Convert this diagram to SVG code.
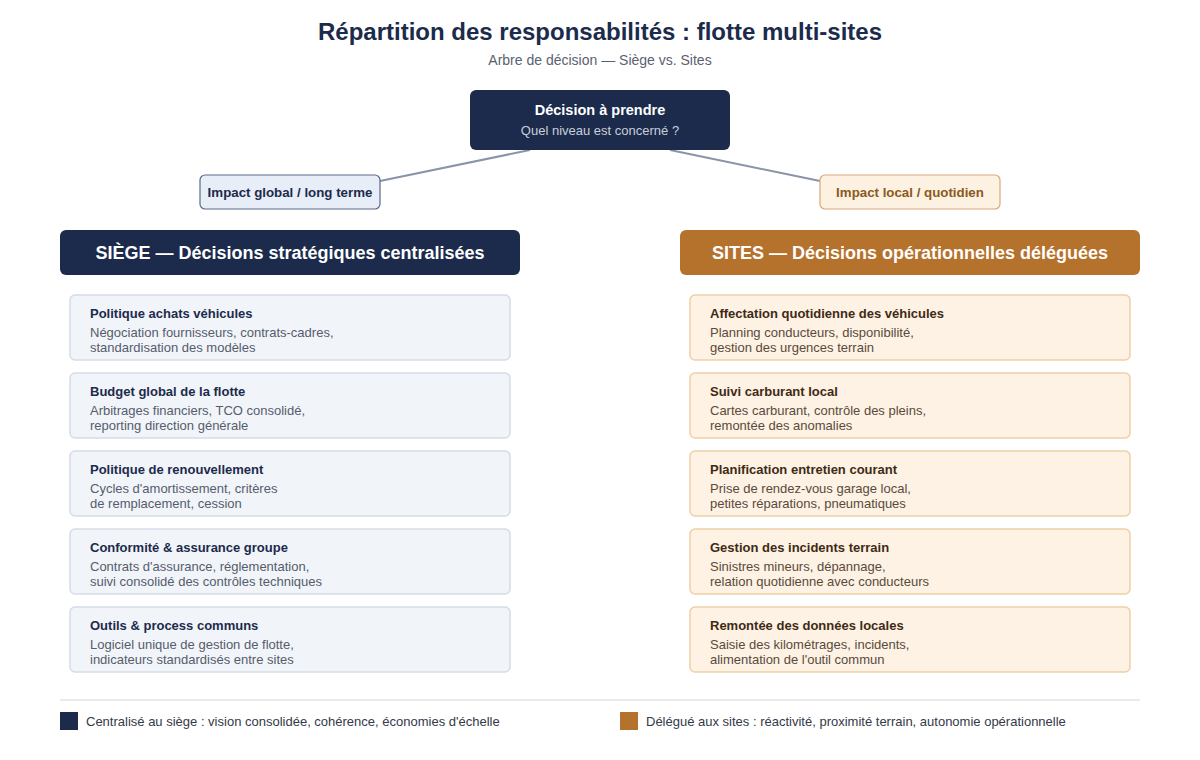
<svg xmlns="http://www.w3.org/2000/svg" width="1200" height="760" viewBox="0 0 1200 760">
<style>
text{font-family:"Liberation Sans",Arial,sans-serif}
.title{font-size:24px;font-weight:bold;fill:#1c2b4b}
.sub{font-size:14px;fill:#5a6270}
.hdr{font-size:18px;font-weight:bold;fill:#fff}
.lcard{fill:#f1f4f9;stroke:#d5dce8;stroke-width:1.5}
.rcard{fill:#fdf2e3;stroke:#f0cfa6;stroke-width:1.5}
.lt{font-size:13px;font-weight:bold;fill:#1c2b4b}
.ld{font-size:13px;fill:#555d6c}
.rt{font-size:13px;font-weight:bold;fill:#3f2a16}
.rd{font-size:13px;fill:#5a4a3c}
.leg{font-size:13px;fill:#333a48}
.conn{stroke:#8a93a8;stroke-width:2;fill:none}
</style>
<rect width="1200" height="760" fill="#ffffff"/>
<text class="title" x="600" y="40" text-anchor="middle">Répartition des responsabilités : flotte multi-sites</text>
<text class="sub" x="600" y="65" text-anchor="middle">Arbre de décision — Siège vs. Sites</text>
<g id="connectors">
<line class="conn" x1="530" y1="150" x2="380" y2="181"/>
<line class="conn" x1="670" y1="150" x2="820" y2="181"/>
</g>
<g id="decision">
<rect x="470" y="90" width="260" height="60" rx="6" fill="#1c2b4b"/>
<text x="600" y="115" text-anchor="middle" font-size="14.5" font-weight="bold" fill="#fff">Décision à prendre</text>
<text x="600" y="135" text-anchor="middle" font-size="13" fill="#c8cfdc">Quel niveau est concerné ?</text>
</g>
<g id="impact-global">
<rect x="200" y="175" width="180" height="34" rx="5" fill="#e8eef7" stroke="#5a6a88" stroke-width="1.2"/>
<text x="290" y="197" text-anchor="middle" font-size="13.3" font-weight="bold" fill="#1c2b4b">Impact global / long terme</text>
</g>
<g id="impact-local">
<rect x="820" y="175" width="180" height="34" rx="5" fill="#fdf1e2" stroke="#d9a878" stroke-width="1.2"/>
<text x="910" y="197" text-anchor="middle" font-size="13.3" font-weight="bold" fill="#8a5a20">Impact local / quotidien</text>
</g>
<g id="siege-header">
<rect x="60" y="230" width="460" height="45" rx="6" fill="#1c2b4b"/>
<text class="hdr" x="290" y="259" text-anchor="middle">SIÈGE — Décisions stratégiques centralisées</text>
</g>
<g id="sites-header">
<rect x="680" y="230" width="460" height="45" rx="6" fill="#b5722d"/>
<text class="hdr" x="910" y="259" text-anchor="middle">SITES — Décisions opérationnelles déléguées</text>
</g>
<g id="s1"><rect class="lcard" x="70" y="295" width="440" height="65" rx="5"/>
<text class="lt" x="90" y="318">Politique achats véhicules</text>
<text class="ld" x="90" y="337">Négociation fournisseurs, contrats-cadres,</text>
<text class="ld" x="90" y="352">standardisation des modèles</text></g>
<g id="s2"><rect class="lcard" x="70" y="373" width="440" height="65" rx="5"/>
<text class="lt" x="90" y="396">Budget global de la flotte</text>
<text class="ld" x="90" y="415">Arbitrages financiers, TCO consolidé,</text>
<text class="ld" x="90" y="430">reporting direction générale</text></g>
<g id="s3"><rect class="lcard" x="70" y="451" width="440" height="65" rx="5"/>
<text class="lt" x="90" y="474">Politique de renouvellement</text>
<text class="ld" x="90" y="493">Cycles d'amortissement, critères</text>
<text class="ld" x="90" y="508">de remplacement, cession</text></g>
<g id="s4"><rect class="lcard" x="70" y="529" width="440" height="65" rx="5"/>
<text class="lt" x="90" y="552">Conformité &amp; assurance groupe</text>
<text class="ld" x="90" y="571">Contrats d'assurance, réglementation,</text>
<text class="ld" x="90" y="586">suivi consolidé des contrôles techniques</text></g>
<g id="s5"><rect class="lcard" x="70" y="607" width="440" height="65" rx="5"/>
<text class="lt" x="90" y="630">Outils &amp; process communs</text>
<text class="ld" x="90" y="649">Logiciel unique de gestion de flotte,</text>
<text class="ld" x="90" y="664">indicateurs standardisés entre sites</text></g>
<g id="r1"><rect class="rcard" x="690" y="295" width="440" height="65" rx="5"/>
<text class="rt" x="710" y="318">Affectation quotidienne des véhicules</text>
<text class="rd" x="710" y="337">Planning conducteurs, disponibilité,</text>
<text class="rd" x="710" y="352">gestion des urgences terrain</text></g>
<g id="r2"><rect class="rcard" x="690" y="373" width="440" height="65" rx="5"/>
<text class="rt" x="710" y="396">Suivi carburant local</text>
<text class="rd" x="710" y="415">Cartes carburant, contrôle des pleins,</text>
<text class="rd" x="710" y="430">remontée des anomalies</text></g>
<g id="r3"><rect class="rcard" x="690" y="451" width="440" height="65" rx="5"/>
<text class="rt" x="710" y="474">Planification entretien courant</text>
<text class="rd" x="710" y="493">Prise de rendez-vous garage local,</text>
<text class="rd" x="710" y="508">petites réparations, pneumatiques</text></g>
<g id="r4"><rect class="rcard" x="690" y="529" width="440" height="65" rx="5"/>
<text class="rt" x="710" y="552">Gestion des incidents terrain</text>
<text class="rd" x="710" y="571">Sinistres mineurs, dépannage,</text>
<text class="rd" x="710" y="586">relation quotidienne avec conducteurs</text></g>
<g id="r5"><rect class="rcard" x="690" y="607" width="440" height="65" rx="5"/>
<text class="rt" x="710" y="630">Remontée des données locales</text>
<text class="rd" x="710" y="649">Saisie des kilométrages, incidents,</text>
<text class="rd" x="710" y="664">alimentation de l'outil commun</text></g>
<line x1="60" y1="700" x2="1140" y2="700" stroke="#e2e5ea" stroke-width="1.5"/>
<g id="legend">
<rect x="60" y="712" width="18" height="18" fill="#1c2b4b"/>
<text class="leg" x="86" y="725.5">Centralisé au siège : vision consolidée, cohérence, économies d'échelle</text>
<rect x="620" y="712" width="18" height="18" fill="#b5722d"/>
<text class="leg" x="646" y="725.5">Délégué aux sites : réactivité, proximité terrain, autonomie opérationnelle</text>
</g>
</svg>
